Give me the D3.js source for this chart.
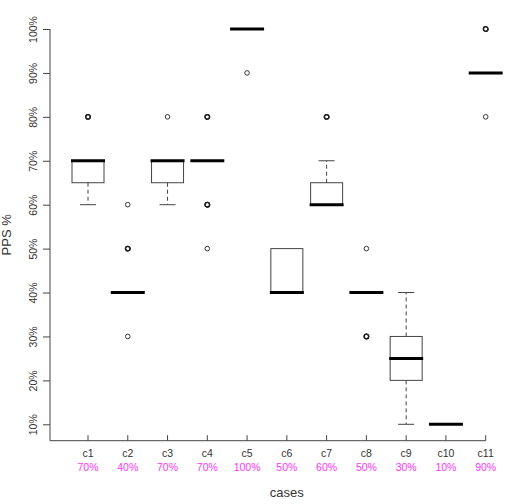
<!DOCTYPE html>
<html>
<head>
<meta charset="utf-8">
<script src="https://cdn.jsdelivr.net/npm/d3@7"></script>
<style>
  body { margin: 0; background: #fff; }
  text { font-family: "Liberation Sans", Arial, sans-serif; }
</style>
</head>
<body>
<svg width="510" height="504"></svg>
<script>
const cases = ['c1', 'c2', 'c3', 'c4', 'c5', 'c6', 'c7', 'c8', 'c9', 'c10', 'c11'];
const pinkLabels = ['70%', '40%', '70%', '70%', '100%', '50%', '60%', '50%', '30%', '10%', '90%'];

// box stats in %
const q1 = [65, 40, 65, 70, 100, 40, 60, 40, 20, 10, 90];
const medians = [70, 40, 70, 70, 100, 40, 60, 40, 25, 10, 90];
const q3 = [70, 40, 70, 70, 100, 50, 65, 40, 30, 10, 90];
const whiskLow = [60, 40, 60, 70, 100, 40, 60, 40, 10, 10, 90];
const whiskHigh = [70, 40, 70, 70, 100, 50, 70, 40, 40, 10, 90];

// outliers: [value, how many points stacked]
const outliers = [
    [[80, 2]],
    [[60, 1], [50, 2], [30, 1]],
    [[80, 1]],
    [[80, 2], [60, 2], [50, 1]],
    [[90, 1]],
    [],
    [[80, 2]],
    [[50, 1], [30, 2]],
    [],
    [],
    [[100, 2], [80, 1]]
];

const yTicks = [10, 20, 30, 40, 50, 60, 70, 80, 90, 100];

const svg = d3.select('svg');

const x = d3.scalePoint()
    .domain(cases)
    .range([88, 485.7]);

const y = d3.scaleLinear()
    .domain([10, 100])
    .range([424.3, 29]);

const axisY = 440.7;
const axisX = 50;
const boxW = 32;
const capW = 16;

// y axis
const yAxis = svg.append('g')
    .attr('transform', `translate(${axisX},0)`)
    .call(d3.axisLeft(y).tickValues(yTicks).tickSize(7).tickFormat(d => d + '%'));
yAxis.select('.domain').remove();
yAxis.selectAll('line').attr('stroke', '#444');
yAxis.selectAll('text')
    .attr('x', null).attr('dy', null).attr('y', null)
    .attr('text-anchor', 'middle')
    .attr('transform', 'translate(-13.5,0) rotate(-90)')
    .attr('font-size', 10.5)
    .attr('fill', '#333');

svg.append('line')
    .attr('x1', axisX).attr('x2', axisX)
    .attr('y1', y(100)).attr('y2', axisY)
    .attr('stroke', '#444');

// x axis, ticks pointing up
svg.append('line')
    .attr('x1', axisX).attr('x2', x('c11'))
    .attr('y1', axisY).attr('y2', axisY)
    .attr('stroke', '#444');

svg.append('g').selectAll('line')
    .data(cases)
    .join('line')
    .attr('x1', d => x(d)).attr('x2', d => x(d))
    .attr('y1', axisY).attr('y2', axisY - 5.5)
    .attr('stroke', '#444');

svg.append('g').selectAll('text')
    .data(cases)
    .join('text')
    .attr('x', d => x(d))
    .attr('y', 457)
    .attr('text-anchor', 'middle')
    .attr('font-size', 10.5)
    .attr('fill', '#333')
    .text(d => d);

svg.append('g').selectAll('text')
    .data(pinkLabels)
    .join('text')
    .attr('x', (d, i) => x(cases[i]))
    .attr('y', 470.5)
    .attr('text-anchor', 'middle')
    .attr('font-size', 10.5)
    .attr('fill', '#ff33ff')
    .text(d => d);

// titles
svg.append('text')
    .attr('x', 286.8)
    .attr('y', 497)
    .attr('text-anchor', 'middle')
    .attr('font-size', 13)
    .attr('fill', '#333')
    .text('cases');

svg.append('text')
    .attr('transform', `translate(11,${(y(100) + axisY) / 2}) rotate(-90)`)
    .attr('text-anchor', 'middle')
    .attr('font-size', 13)
    .attr('fill', '#333')
    .text('PPS %');

// boxes
const boxes = svg.append('g')
    .selectAll('g')
    .data(cases)
    .join('g')
    .attr('transform', d => `translate(${x(d)},0)`);

boxes.each(function (d, i) {
    const g = d3.select(this);
    if (whiskHigh[i] > q3[i]) {
        g.append('line')
            .attr('y1', y(q3[i])).attr('y2', y(whiskHigh[i]))
            .attr('stroke', '#444').attr('stroke-dasharray', '4,3');
        g.append('line')
            .attr('x1', -capW / 2).attr('x2', capW / 2)
            .attr('y1', y(whiskHigh[i])).attr('y2', y(whiskHigh[i]))
            .attr('stroke', '#444');
    }
    if (whiskLow[i] < q1[i]) {
        g.append('line')
            .attr('y1', y(q1[i])).attr('y2', y(whiskLow[i]))
            .attr('stroke', '#444').attr('stroke-dasharray', '4,3');
        g.append('line')
            .attr('x1', -capW / 2).attr('x2', capW / 2)
            .attr('y1', y(whiskLow[i])).attr('y2', y(whiskLow[i]))
            .attr('stroke', '#444');
    }
    if (q3[i] > q1[i]) {
        g.append('rect')
            .attr('x', -boxW / 2)
            .attr('width', boxW)
            .attr('y', y(q3[i]))
            .attr('height', y(q1[i]) - y(q3[i]))
            .attr('fill', 'none')
            .attr('stroke', '#444');
    }
    g.append('line')
        .attr('x1', -boxW / 2 - 1).attr('x2', boxW / 2 + 1)
        .attr('y1', y(medians[i])).attr('y2', y(medians[i]))
        .attr('stroke', '#000')
        .attr('stroke-width', 3);

    outliers[i].forEach(([v, n]) => {
        d3.range(n).forEach(() => {
            g.append('circle')
                .attr('cy', y(v))
                .attr('r', 2.3)
                .attr('fill', 'none')
                .attr('stroke', '#222')
                .attr('stroke-width', n > 1 ? 1.3 : 0.9);
        });
    });
});
</script>
</body>
</html>
